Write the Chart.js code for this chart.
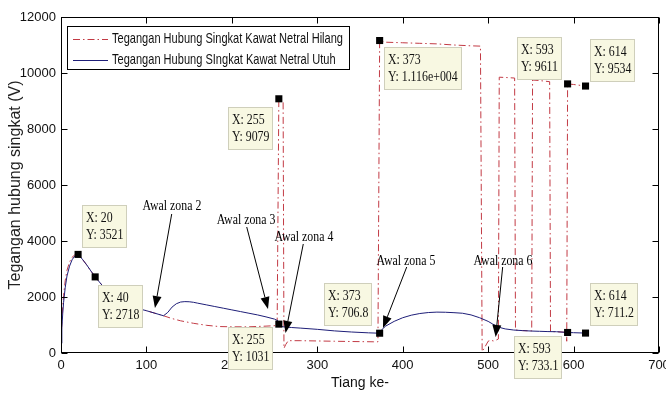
<!DOCTYPE html>
<html><head><meta charset="utf-8">
<script src="https://cdn.jsdelivr.net/npm/chart.js@4.4.0/dist/chart.umd.min.js"></script>
<style>html,body{margin:0;padding:0;background:#fff;}canvas{display:block;}</style>
</head><body>
<canvas id="c" width="666" height="394"></canvas>
<script>
// ---------- data ----------
const seriesNames = ['Tegangan Hubung Singkat Kawat Netral Hilang', 'Tegangan Hubung SIngkat Kawat Netral Utuh'];
const xTicks = [0, 100, 200, 300, 400, 500, 600, 700];
const yTicks = [0, 2000, 4000, 6000, 8000, 10000, 12000];

const hilangX = [0,1,2,3,5,7,10,13,16,20,25,30,35,40,50,60,70,80,90,100,110,120,130,140,155,170,185,200,220,240,253,255,260,261,263,266,280,300,320,340,366,371,373,380,400,420,440,460,480,491,493,496,500,503,506,510,512,513,520,531,532,540,551,552,560,572,573,580,591,592,593,600,614];
const hilangY = [346,1100,1650,2050,2600,2950,3250,3420,3500,3521,3350,3150,2930,2718,2350,2080,1870,1710,1590,1511,1420,1330,1230,1150,1061,990,945,935,935,960,980,9079,9000,168,300,440,440,430,420,410,400,400,11160,11100,11080,11060,11040,11000,10970,10960,50,200,420,460,430,470,500,9850,9840,9820,821,800,790,9750,9730,9690,765,760,740,420,9611,9590,9534];

const utuhX = [0,1,2,3,5,7,10,13,16,20,25,30,35,40,50,60,70,80,90,100,110,120,125,130,135,140,145,150,155,160,170,180,190,200,210,220,230,240,250,254,255,257,260,270,280,300,320,340,360,373,376,380,390,400,410,420,430,440,450,460,470,480,490,500,505,510,515,520,530,540,550,560,570,580,593,600,614];
const utuhY = [346,900,1400,1800,2350,2750,3100,3330,3460,3521,3350,3150,2930,2718,2350,2080,1870,1710,1590,1511,1420,1330,1450,1640,1760,1820,1835,1830,1811,1780,1720,1660,1600,1540,1480,1420,1360,1290,1210,1150,1031,960,935,910,890,845,790,750,720,706.8,850,960,1130,1260,1350,1410,1445,1460,1455,1440,1420,1360,1260,1130,1040,960,900,860,820,800,785,775,765,760,733.1,725,711.2];

const tipX = [20, 40, 255, 255, 373, 373, 593, 593, 614, 614];
const tipY = [3521, 2718, 9079, 1031, 11160, 706.8, 9611, 733.1, 9534, 711.2];
const tipYLabels = ['3521', '2718', '9079', '1031', '1.116e+004', '706.8', '9611', '733.1', '9534', '711.2'];

const zoneLabels = ['Awal zona 2', 'Awal zona 3', 'Awal zona 4', 'Awal zona 5', 'Awal zona 6'];

// ---------- styles / placement ----------
const RED = '#c23a44';
const BLUE = '#1e1e78';
const SERIF = '15px "Liberation Serif", "Times New Roman", serif';
const SERIF_SX = 0.79;
const SANS = '15px "Liberation Sans", Arial, sans-serif';
const NARROW = '"Liberation Sans Narrow", "Arial Narrow", "Liberation Sans", sans-serif';

const toPts = (xs, ys) => xs.map((x, i) => ({x: x, y: ys[i]}));

function sText(ctx, str, x, y, align, sx) {
  ctx.save(); ctx.translate(x, y); ctx.scale(sx, 1);
  ctx.textAlign = align; ctx.fillText(str, 0, 0); ctx.restore();
}
function arrow(ctx, x1, y1, x2, y2) {
  const a = Math.atan2(y2 - y1, x2 - x1), L = 12, W = 4.5;
  const bx = x2 - L * Math.cos(a), by = y2 - L * Math.sin(a);
  ctx.beginPath(); ctx.moveTo(x1, y1); ctx.lineTo(bx, by); ctx.stroke();
  ctx.beginPath(); ctx.moveTo(x2, y2);
  ctx.lineTo(bx + W * Math.sin(a), by - W * Math.cos(a));
  ctx.lineTo(bx - W * Math.sin(a), by + W * Math.cos(a));
  ctx.closePath(); ctx.fill();
}

const decor = {
  id: 'decor',
  afterDatasetsDraw(chart, args, o) {
    const {ctx, chartArea: a, scales: {x, y}} = chart;
    ctx.save();
    ctx.strokeStyle = '#000'; ctx.lineWidth = 1; ctx.setLineDash([]);
    const L = Math.round(a.left) + 0.5, R = Math.round(a.right) - 0.5;
    const T = Math.round(a.top) + 0.5, B = Math.round(a.bottom) - 0.5;
    ctx.strokeRect(L, T, R - L, B - T);
    ctx.beginPath();
    xTicks.forEach(v => {
      const px = Math.round(x.getPixelForValue(v)) + 0.5;
      ctx.moveTo(px, B); ctx.lineTo(px, B - o.tick);
      ctx.moveTo(px, T); ctx.lineTo(px, T + o.tick);
    });
    yTicks.forEach(v => {
      const py = Math.round(y.getPixelForValue(v)) + 0.5;
      ctx.moveTo(L, py); ctx.lineTo(L + o.tick, py);
      ctx.moveTo(R, py); ctx.lineTo(R - o.tick, py);
    });
    ctx.stroke();
    ctx.restore();
  },
  afterDraw(chart, args, o) {
    const {ctx, chartArea: a, scales: {x, y}} = chart;
    ctx.save();
    // zone arrows
    ctx.fillStyle = '#000'; ctx.strokeStyle = '#000'; ctx.lineWidth = 1;
    ctx.font = SERIF; ctx.textBaseline = 'middle';
    o.arrows.forEach((ar, i) => {
      sText(ctx, zoneLabels[i], x.getPixelForValue(ar.text[0]), y.getPixelForValue(ar.text[1]), 'center', SERIF_SX);
      arrow(ctx, x.getPixelForValue(ar.from[0]), y.getPixelForValue(ar.from[1]),
                 x.getPixelForValue(ar.to[0]), y.getPixelForValue(ar.to[1]));
    });
    // legend
    const lg = o.legend;
    const lx = a.left + lg.dx, ly = a.top + lg.dy;
    ctx.fillStyle = '#fff'; ctx.fillRect(lx, ly, lg.w, lg.h);
    ctx.strokeStyle = '#000'; ctx.strokeRect(lx + 0.5, ly + 0.5, lg.w, lg.h);
    ctx.font = SANS;
    const lsx = lg.textW / ctx.measureText(chart.data.datasets[0].label).width;
    [0, 1].forEach(i => {
      const ds = chart.data.datasets[i];
      const ry = ly + lg.rows[i];
      ctx.strokeStyle = ds.borderColor; ctx.lineWidth = 1;
      ctx.setLineDash(ds.borderDash || []);
      ctx.beginPath(); ctx.moveTo(lx + 6, ry + 0.5); ctx.lineTo(lx + 41, ry + 0.5); ctx.stroke();
      ctx.setLineDash([]);
      ctx.fillStyle = '#111'; ctx.textBaseline = 'middle';
      sText(ctx, ds.label, lx + 45, ry, 'left', lsx);
    });
    // data tips
    ctx.font = SERIF; ctx.textBaseline = 'middle';
    tipX.forEach((tx, i) => {
      const px = x.getPixelForValue(tx), py = y.getPixelForValue(tipY[i]);
      const l1 = 'X: ' + tx, l2 = 'Y: ' + tipYLabels[i];
      const w = Math.round(Math.max(ctx.measureText(l1).width, ctx.measureText(l2).width) * SERIF_SX + 8);
      const off = o.tipOff[i];
      const bx = Math.round(off[0] < 0 ? px + off[0] - w : px + off[0]);
      const by = Math.round(py + off[1]);
      ctx.fillStyle = '#f8f8e2'; ctx.fillRect(bx, by, w, o.tipH);
      ctx.strokeStyle = '#cfcfbb'; ctx.lineWidth = 1; ctx.strokeRect(bx + 0.5, by + 0.5, w - 1, o.tipH - 1);
      ctx.fillStyle = '#111';
      sText(ctx, l1, bx + 4, by + 13, 'left', SERIF_SX);
      sText(ctx, l2, bx + 4, by + 30, 'left', SERIF_SX);
    });
    ctx.restore();
  }
};

new Chart(document.getElementById('c'), {
  type: 'scatter',
  data: {
    datasets: [
      {label: seriesNames[0], data: toPts(hilangX, hilangY), showLine: true, borderColor: RED, borderWidth: 1,
       borderDash: [7, 3, 1.5, 3], pointRadius: 0, order: 2},
      {label: seriesNames[1], data: toPts(utuhX, utuhY), showLine: true, borderColor: BLUE, borderWidth: 1,
       pointRadius: 0, order: 1},
      {label: 'tips', data: toPts(tipX, tipY), showLine: false, pointStyle: 'rect', pointRadius: 5,
       backgroundColor: '#000', borderColor: '#000', borderWidth: 0, order: 0}
    ]
  },
  options: {
    responsive: false, animation: false, devicePixelRatio: 1,
    layout: {padding: {top: 17, right: 7, left: 0, bottom: 0}},
    plugins: {
      legend: {display: false}, tooltip: {enabled: false},
      decor: {
        tick: 6, tipH: 43,
        legend: {dx: 6, dy: 9, w: 282, h: 43, rows: [13, 34], textW: 231},
        // order follows tipX: 20, 40, 255hi, 255lo, 373hi, 373lo, 593hi, 593lo, 614hi, 614lo
        tipOff: [[4, -49], [3, 8], [-6, 8], [-6, 3], [4, 6], [-8, -50], [-6, -47], [-6, 4], [4, -47], [4, -50]],
        arrows: [
          {text: [129.9, 5250], from: [129.6, 4964], to: [110, 1607]},
          {text: [216.6, 4750], from: [217.4, 4500], to: [242.3, 1571]},
          {text: [284.4, 4143], from: [283.6, 3893], to: [262.8, 714]},
          {text: [403.8, 3286], from: [404.7, 3071], to: [376.9, 893]},
          {text: [517.4, 3286], from: [517.0, 3071], to: [508.8, 571]}
        ]
      }
    },
    scales: {
      x: {
        type: 'linear', min: 0, max: 700,
        afterBuildTicks: s => { s.ticks = xTicks.map(v => ({value: v})); },
        ticks: {autoSkip: false, maxRotation: 0, padding: 5, color: '#111', font: {family: NARROW, size: 13},
                callback: v => String(v)},
        grid: {display: false, drawTicks: false}, border: {display: false},
        title: {display: true, text: 'Tiang ke-', color: '#111', font: {family: NARROW, size: 14}, padding: {top: 0, bottom: 2}},
        afterFit: s => { s.height = 41; s.paddingLeft = 0; s.paddingRight = 0; }
      },
      y: {
        type: 'linear', min: 0, max: 12000,
        afterBuildTicks: s => { s.ticks = yTicks.map(v => ({value: v})); },
        ticks: {autoSkip: false, padding: 5, color: '#111', font: {family: NARROW, size: 13},
                callback: v => String(v)},
        grid: {display: false, drawTicks: false}, border: {display: false},
        title: {display: true, text: 'Tegangan hubung singkat (V)', color: '#222',
                font: {family: '"Liberation Sans", Arial, sans-serif', size: 16}, padding: {top: 6, bottom: 0}},
        afterFit: s => { s.width = 61; s.paddingTop = 0; s.paddingBottom = 0; }
      }
    }
  },
  plugins: [decor]
});
</script>
</body></html>
